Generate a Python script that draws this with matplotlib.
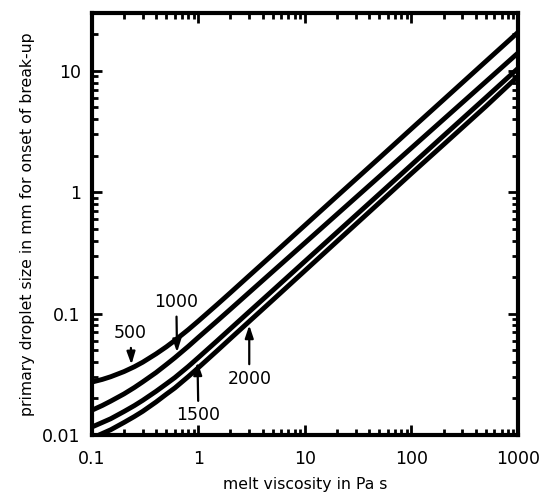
import matplotlib
matplotlib.use("Agg")
import matplotlib.pyplot as plt
import numpy as np
from matplotlib.ticker import FixedLocator, FixedFormatter, LogLocator, NullFormatter

# melt viscosity (Pa s)
viscosity = [0.1, 0.125, 0.15, 0.2, 0.25, 0.3, 0.4, 0.5, 0.6, 0.8, 1,
             1.5, 2, 3, 5, 10, 20, 50, 100, 200, 500, 1000]

# droplet size (mm), one series per curve label
size_500 = [0.0273, 0.0287, 0.0302, 0.0333, 0.0365, 0.0398, 0.0466, 0.0533,
            0.0601, 0.0736, 0.0870, 0.1189, 0.149, 0.2056, 0.308, 0.535,
            0.929, 1.92, 3.34, 5.79, 12.0, 20.8]
size_1000 = [0.0160, 0.0175, 0.0190, 0.0218, 0.0246, 0.0274, 0.0327, 0.0381,
             0.0433, 0.0536, 0.0638, 0.0871, 0.1089, 0.1496, 0.223, 0.383,
             0.659, 1.349, 2.32, 3.99, 8.17, 14.06]
size_1500 = [0.01164, 0.01268, 0.01361, 0.01561, 0.01746, 0.0193, 0.0229,
             0.0264, 0.0297, 0.0366, 0.0435, 0.0598, 0.0752, 0.1038, 0.1556,
             0.270, 0.468, 0.969, 1.682, 2.92, 6.04, 10.5]
size_2000 = [0.00942, 0.01028, 0.01104, 0.01268, 0.01419, 0.01567, 0.0187,
             0.0217, 0.0244, 0.0302, 0.0359, 0.0495, 0.0624, 0.0863, 0.1297,
             0.226, 0.394, 0.820, 1.429, 2.47, 5.11, 9.02]

series = [("500", size_500), ("1000", size_1000),
          ("1500", size_1500), ("2000", size_2000)]

x_ticks = [0.1, 1, 10, 100, 1000]
x_labels = ["0.1", "1", "10", "100", "1000"]
y_ticks = [0.01, 0.1, 1, 10]
y_labels = ["0.01", "0.1", "1", "10"]

fig = plt.figure(figsize=(5.47, 4.94), dpi=100)
ax = fig.add_axes([0.168, 0.1194, 0.779, 0.8543])

for name, vals in series:
    ax.plot(viscosity, vals, color="black", lw=3.5, solid_capstyle="butt",
            solid_joinstyle="round")

ax.set_xscale("log")
ax.set_yscale("log")
ax.set_xlim(0.1, 1000)
ax.set_ylim(0.01, 30)

ax.xaxis.set_major_locator(FixedLocator(x_ticks))
ax.xaxis.set_major_formatter(FixedFormatter(x_labels))
ax.yaxis.set_major_locator(FixedLocator(y_ticks))
ax.yaxis.set_major_formatter(FixedFormatter(y_labels))
ax.xaxis.set_minor_locator(LogLocator(base=10, subs=np.arange(2, 10)))
ax.yaxis.set_minor_locator(LogLocator(base=10, subs=np.arange(2, 10)))
ax.xaxis.set_minor_formatter(NullFormatter())
ax.yaxis.set_minor_formatter(NullFormatter())

ax.tick_params(which="both", direction="in", top=True, right=True,
               width=2, labelsize=12.5)
ax.tick_params(axis="x", pad=10.5)
ax.tick_params(axis="y", pad=8)
ax.tick_params(which="major", length=7)
ax.tick_params(which="minor", length=4)
for sp in ax.spines.values():
    sp.set_linewidth(3)

ax.set_xlabel("melt viscosity in Pa s", fontsize=11.3, labelpad=7)
ax.set_ylabel("primary droplet size in mm for onset of break-up",
              fontsize=11.3, labelpad=5)


def on_curve(vals, x):
    return 10 ** np.interp(np.log10(x), np.log10(viscosity), np.log10(vals))


arrow = dict(arrowstyle="-|>,head_length=0.6,head_width=0.2", color="black",
             lw=1.6, shrinkA=2, shrinkB=0)
# (label, series, x on curve, text x, text y)
notes = [("500", size_500, 0.235, 0.23, 0.058),
         ("1000", size_1000, 0.63, 0.62, 0.105),
         ("1500", size_1500, 0.98, 1.0, 0.0172),
         ("2000", size_2000, 3.0, 3.0, 0.0345)]
for label, vals, xp, tx, ty in notes:
    yp = on_curve(vals, xp)
    above = ty > yp
    # tip just touches the line edge
    yp = yp * (1.07 if above else 0.93)
    ax.annotate(label, xy=(xp, yp), xytext=(tx, ty), ha="center",
                va="bottom" if above else "top", fontsize=12.5,
                arrowprops=arrow)

fig.savefig("out.png", dpi=100)
